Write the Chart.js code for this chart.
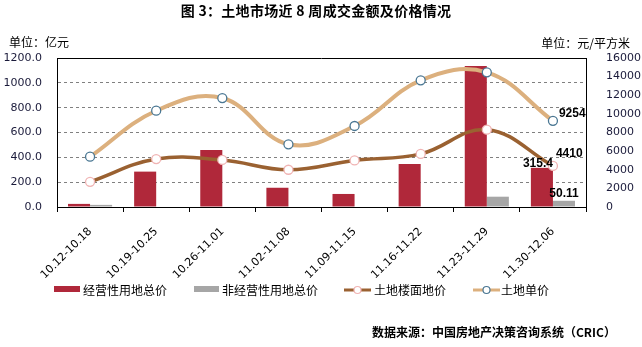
<!DOCTYPE html>
<html lang="zh">
<head>
  <meta charset="UTF-8" />
  <title>土地市场近8周成交金额及价格情况</title>
  <script src="https://cdn.jsdelivr.net/npm/chart.js"></script>
  <style>
    body { margin: 0; background: #fff; }
    #wrap { width: 642px; height: 347px; }
  </style>
</head>
<body>
  <div id="wrap"><canvas id="chart" width="642" height="347"></canvas></div>

  <script>
    // 数据
    const weeks = ['10.12-10.18', '10.19-10.25', '10.26-11.01', '11.02-11.08', '11.09-11.15', '11.16-11.22', '11.23-11.29', '11.30-12.06'];
    const operatingTotal = [25, 285, 460, 155, 105, 346, 1136, 315.4];      // 亿元
    const nonOperatingTotal = [17, 0, 0, 0, 0, 0, 83, 50.11];               // 亿元
    const floorPrice = [2700, 5150, 5050, 4000, 5000, 5700, 8300, 4410];   // 元/平方米
    const unitPrice = [5400, 10340, 11700, 6730, 8700, 13600, 14460, 9254]; // 元/平方米
    const seriesNames = ['经营性用地总价', '非经营性用地总价', '土地楼面地价', '土地单价'];

    const RED = '#b0283a';
    const GREY = '#a6a6a6';
    const BROWN = '#9a6131';
    const TAN = '#dcb07e';
    const CJK = '"Noto Sans CJK SC", sans-serif';
    const NUM = '"DejaVu Sans", sans-serif';

    // 标题、单位、图例、来源以及最后一周的数值标签
    const extras = {
      id: 'extras',
      afterDraw(chart) {
        const ctx = chart.ctx;
        const area = chart.chartArea;
        ctx.save();

        // 绘图区上边框
        ctx.strokeStyle = '#000';
        ctx.lineWidth = 1;
        ctx.beginPath();
        ctx.moveTo(area.left, area.top + 0.5);
        ctx.lineTo(area.right, area.top + 0.5);
        ctx.stroke();

        ctx.fillStyle = '#000';
        ctx.textBaseline = 'middle';
        ctx.font = 'bold 14px ' + CJK;
        ctx.letterSpacing = '0.3px';
        ctx.textAlign = 'center';
        ctx.fillText('图 3：土地市场近 8 周成交金额及价格情况', 316, 11);
        ctx.letterSpacing = '0px';

        ctx.font = '12px ' + CJK;
        ctx.textAlign = 'left';
        ctx.fillText('单位：亿元', 9, 42);
        ctx.textAlign = 'right';
        ctx.fillText('单位：元/平方米', 630, 43);

        // 图例
        const ly = 290;
        ctx.textAlign = 'left';
        ctx.fillStyle = RED;
        ctx.fillRect(54, 286, 26, 6);
        ctx.fillStyle = GREY;
        ctx.fillRect(194, 286, 25, 6);
        [[BROWN, '#f0b4b4', 344], [TAN, '#4a7793', 473]].forEach(([c, pc, x]) => {
          ctx.strokeStyle = c;
          ctx.lineWidth = 3;
          ctx.beginPath();
          ctx.moveTo(x, ly);
          ctx.lineTo(x + 27, ly);
          ctx.stroke();
          ctx.beginPath();
          ctx.arc(x + 13.5, ly, 3.5, 0, Math.PI * 2);
          ctx.fillStyle = '#fff';
          ctx.fill();
          ctx.strokeStyle = pc;
          ctx.lineWidth = 1.2;
          ctx.stroke();
        });
        ctx.fillStyle = '#000';
        ctx.font = '12px ' + CJK;
        ctx.fillText(seriesNames[0], 83, ly);
        ctx.fillText(seriesNames[1], 222, ly);
        ctx.fillText(seriesNames[2], 374, ly);
        ctx.fillText(seriesNames[3], 501, ly);

        // 数据来源
        ctx.font = 'bold 12px ' + CJK;
        ctx.fillText('数据来源：中国房地产决策咨询系统（CRIC）', 372, 332);

        // 最后一周数值标签
        const last = weeks.length - 1;
        const bar1 = chart.getDatasetMeta(0).data[last];
        const bar2 = chart.getDatasetMeta(1).data[last];
        const pt1 = chart.getDatasetMeta(2).data[last];
        const pt2 = chart.getDatasetMeta(3).data[last];
        ctx.font = 'bold 12px "Liberation Sans", sans-serif';
        ctx.textBaseline = 'bottom';
        ctx.textAlign = 'center';
        ctx.fillText(String(operatingTotal[last]), bar1.x - 4, bar1.y + 2);
        ctx.fillText(String(nonOperatingTotal[last]), bar2.x, bar2.y - 1);
        ctx.textAlign = 'left';
        ctx.fillText(String(floorPrice[last]), pt1.x + 3, pt1.y - 6);
        ctx.fillText(String(unitPrice[last]), pt2.x + 6, pt2.y - 1);
        ctx.restore();
      }
    };

    new Chart(document.getElementById('chart'), {
      type: 'bar',
      data: {
        labels: weeks,
        datasets: [
          {
            label: seriesNames[0], data: operatingTotal, backgroundColor: RED,
            yAxisID: 'y', order: 2, categoryPercentage: 0.667, barPercentage: 1
          },
          {
            label: seriesNames[1], data: nonOperatingTotal, backgroundColor: GREY,
            yAxisID: 'y', order: 2, categoryPercentage: 0.667, barPercentage: 1
          },
          {
            type: 'line', label: seriesNames[2], data: floorPrice, yAxisID: 'y1', order: 1,
            borderColor: BROWN, borderWidth: 3.5, tension: 0.4,
            pointRadius: 4.5, pointBackgroundColor: '#fff', pointBorderColor: '#f0b4b4', pointBorderWidth: 1.3
          },
          {
            type: 'line', label: seriesNames[3], data: unitPrice, yAxisID: 'y1', order: 0,
            borderColor: TAN, borderWidth: 4, tension: 0.4,
            pointRadius: 4.5, pointBackgroundColor: '#fff', pointBorderColor: '#4a7793', pointBorderWidth: 1.3
          }
        ]
      },
      options: {
        responsive: false,
        animation: false,
        layout: { padding: { top: 58, left: 0, right: 0, bottom: 0 } },
        plugins: {
          legend: { display: false },
          title: { display: false },
          tooltip: { enabled: false }
        },
        scales: {
          x: {
            offset: true,
            grid: { display: true, drawOnChartArea: false, drawTicks: true, tickLength: 5, color: '#000', offset: true },
            border: { display: true, color: '#000' },
            ticks: {
              color: '#000', font: { family: NUM, size: 11 },
              maxRotation: 45, minRotation: 45, padding: 13, autoSkip: false
            },
            afterFit(scale) { scale.height = 140; }
          },
          y: {
            position: 'left', min: 0, max: 1200,
            ticks: {
              stepSize: 200, color: '#1a1a3a', padding: 15,
              font: { family: NUM, size: 11 },
              callback: v => v.toFixed(1)
            },
            grid: { display: true, drawOnChartArea: true, drawTicks: false, color: '#808080', lineWidth: 1 },
            border: { display: true, color: '#000', dash: [3, 3] },
            afterFit(scale) { scale.width = 57; }
          },
          y1: {
            position: 'right', min: 0, max: 16000,
            ticks: {
              stepSize: 2000, color: '#1a1a3a', padding: 12,
              font: { family: NUM, size: 11 },
              callback: v => String(v)
            },
            grid: { display: false },
            border: { display: true, color: '#000' },
            afterFit(scale) { scale.width = 56; }
          }
        }
      },
      plugins: [extras]
    });
  </script>
</body>
</html>
